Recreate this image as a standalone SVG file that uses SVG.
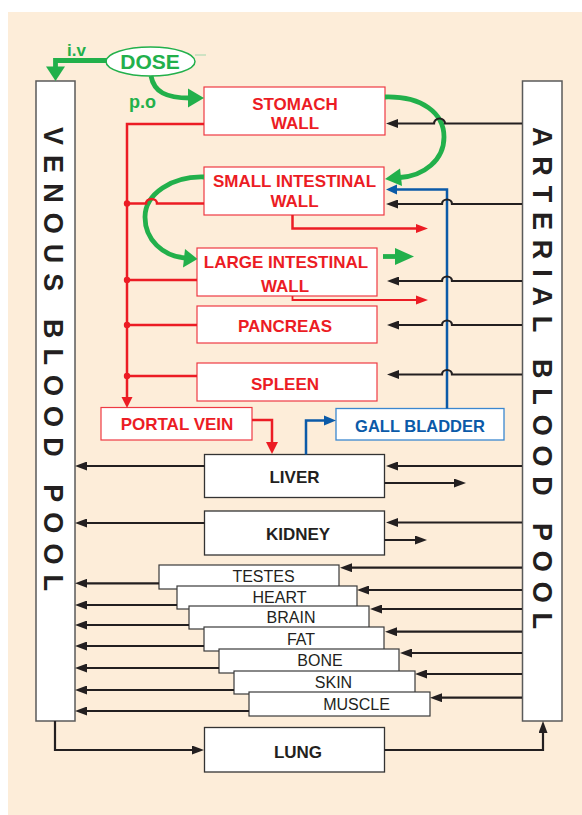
<svg xmlns="http://www.w3.org/2000/svg" width="582" height="815" viewBox="0 0 582 815">
<style>
.bg{fill:#FDEDD9}
.pool{fill:#fff;stroke:#5a5a5a;stroke-width:1.5}
.poolt{font-family:"Liberation Sans",Arial,sans-serif;font-weight:bold;font-size:27px;fill:#231f20}
.rbox{fill:#fff;stroke:#EE3A43;stroke-width:1.2}
.rt{font-family:"Liberation Sans",Arial,sans-serif;font-weight:bold;font-size:17px;fill:#EC1C24;text-anchor:middle}
.kbox{fill:#fff;stroke:#333;stroke-width:1.3}
.kt{font-family:"Liberation Sans",Arial,sans-serif;font-weight:bold;font-size:17px;fill:#231f20;text-anchor:middle}
.tbox{fill:#fff;stroke:#3a3a3a;stroke-width:1.2}
.tt{font-family:"Liberation Sans",Arial,sans-serif;font-size:16px;fill:#231f20;text-anchor:middle}
.bbox{fill:#fff;stroke:#3B87CF;stroke-width:1.3}
.bt{font-family:"Liberation Sans",Arial,sans-serif;font-weight:bold;font-size:16.5px;fill:#0B5AA8;text-anchor:middle}
.gt{font-family:"Liberation Sans",Arial,sans-serif;font-weight:bold;fill:#22B04B}
.k{fill:none;stroke:#231f20;stroke-width:2.2;marker-end:url(#ak)}
.kn{fill:none;stroke:#231f20;stroke-width:2.2}
.r{fill:none;stroke:#EC1C24;stroke-width:2.5}
.rthin{fill:none;stroke:#EC1C24;stroke-width:1.8}
.rf{fill:#EC1C24}
.b{fill:none;stroke:#0B5AA8;stroke-width:2.5}
.bf{fill:#0B5AA8}
.g{fill:none;stroke:#22B04B;stroke-width:4.8}
.gf{fill:#22B04B}
</style>
<defs>
<marker id="ak" markerUnits="userSpaceOnUse" markerWidth="12" markerHeight="9" refX="2" refY="4.5" orient="auto">
<path d="M0,0 L12,4.5 L0,9 z" fill="#231f20"/>
</marker>
</defs>
<rect class="bg" x="8" y="12" width="574" height="803"/>

<g id="venous">
<rect class="pool" x="36" y="81" width="39" height="640"/>
<text class="poolt" transform="translate(44,127) rotate(90)" textLength="464" lengthAdjust="spacing">VENOUS BLOOD POOL</text>
</g>
<g id="arterial">
<rect class="pool" x="522.5" y="81" width="39.5" height="640"/>
<text class="poolt" transform="translate(533,127) rotate(90)" textLength="502" lengthAdjust="spacing">ARTERIAL BLOOD POOL</text>
</g>

<g id="dose">
<ellipse cx="150.5" cy="61.5" rx="44.5" ry="14.5" fill="#fff" stroke="#22B04B" stroke-width="1.5"/>
<line x1="195" y1="55" x2="206" y2="55" stroke="#9fd8ad" stroke-width="1"/>
<text class="gt" x="150" y="68.5" font-size="21" text-anchor="middle">DOSE</text>
</g>

<g id="stomach">
<rect class="rbox" x="204" y="87" width="181" height="48"/>
<text class="rt" x="295" y="110">STOMACH</text>
<text class="rt" x="295" y="129">WALL</text>
</g>
<g id="small-intestinal-wall">
<rect class="rbox" x="204" y="167" width="180" height="48"/>
<text class="rt" x="294.5" y="187">SMALL INTESTINAL</text>
<text class="rt" x="294.5" y="207">WALL</text>
</g>
<g id="large-intestinal-wall">
<rect class="rbox" x="197" y="248" width="180" height="48"/>
<text class="rt" x="286" y="268">LARGE INTESTINAL</text>
<text class="rt" x="285" y="291.5">WALL</text>
</g>
<g id="pancreas">
<rect class="rbox" x="197" y="306" width="180" height="37"/>
<text class="rt" x="285" y="332">PANCREAS</text>
</g>
<g id="spleen">
<rect class="rbox" x="197" y="363" width="180" height="38"/>
<text class="rt" x="285" y="390">SPLEEN</text>
</g>
<g id="portal-vein">
<rect class="rbox" x="101" y="407.5" width="151" height="32.5"/>
<text class="rt" x="177" y="430">PORTAL VEIN</text>
</g>
<g id="gall-bladder">
<rect class="bbox" x="336" y="408.5" width="168" height="31.5"/>
<text class="bt" x="420" y="432">GALL BLADDER</text>
</g>
<g id="liver">
<rect class="kbox" x="204.5" y="454.5" width="180" height="43"/>
<text class="kt" x="294.5" y="483">LIVER</text>
</g>
<g id="kidney">
<rect class="kbox" x="204.5" y="511" width="180" height="44"/>
<text class="kt" x="298" y="540">KIDNEY</text>
</g>

<g id="testes">
<rect class="tbox" x="159" y="565" width="180" height="24"/>
<text class="tt" x="263.5" y="582">TESTES</text>
</g>
<g id="heart">
<rect class="tbox" x="177" y="586" width="180" height="23"/>
<text class="tt" x="279.5" y="603">HEART</text>
</g>
<g id="brain">
<rect class="tbox" x="189" y="606" width="180" height="23"/>
<text class="tt" x="291" y="623">BRAIN</text>
</g>
<g id="fat">
<rect class="tbox" x="204" y="627" width="180" height="24"/>
<text class="tt" x="301" y="645">FAT</text>
</g>
<g id="bone">
<rect class="tbox" x="219" y="649" width="180" height="24"/>
<text class="tt" x="320" y="666">BONE</text>
</g>
<g id="skin">
<rect class="tbox" x="234" y="671" width="181" height="23"/>
<text class="tt" x="333.5" y="688">SKIN</text>
</g>
<g id="muscle">
<rect class="tbox" x="249" y="692" width="181" height="24"/>
<text class="tt" x="356.5" y="710">MUSCLE</text>
</g>
<g id="lung">
<rect class="kbox" x="204.5" y="727.5" width="180" height="44.5"/>
<text class="kt" x="298" y="758" font-size="18.5">LUNG</text>
</g>

<g id="connectors">
<!-- green dosing -->
<text class="gt" x="67" y="56" font-size="17">i.v</text>
<path class="g" d="M107,60.5 H55.5 V68"/>
<polygon class="gf" points="46,66.5 65,66.5 55.5,81"/>
<text class="gt" x="129" y="108" font-size="18">p.o</text>
<path class="g" d="M151,76 C154,92 166,98 190,98"/>
<polygon class="gf" points="188,88.5 204,98 188,107.5"/>
<path class="g" d="M385,97 C422,96 444,113 444,137 C444,160 424,176 400,177.5"/>
<polygon class="gf" points="400,168.5 385,179 402,186"/>
<path class="g" d="M204,177 C172,176 145,194 145,217 C145,240 163,256 185,258"/>
<polygon class="gf" points="185,249 197.5,259 183,267.5"/>
<path class="g" d="M383,256.5 H397" stroke-width="4.5"/>
<polygon class="gf" points="395,248 414,256.5 395,265"/>

<!-- red portal system -->
<path class="r" d="M204,124 H127 V399"/>
<polygon class="rf" points="121.5,397 132.5,397 127,408"/>
<path class="r" d="M204,203.5 H157 a5.5,4.5 0 0 0 -11,0 H127" stroke-width="2.2"/>
<path class="r" d="M197,280 H127" stroke-width="2.2"/>
<path class="r" d="M197,325 H127" stroke-width="2.2"/>
<path class="r" d="M197,376 H127" stroke-width="2.2"/>
<circle class="rf" cx="127" cy="203.5" r="3.2"/>
<circle class="rf" cx="127" cy="280" r="3.2"/>
<circle class="rf" cx="127" cy="325" r="3.2"/>
<circle class="rf" cx="127" cy="376" r="3.2"/>
<path class="r" d="M292.5,215 V228.5 H417" stroke-width="2"/>
<polygon class="rf" points="416,224 428,228.5 416,233"/>
<path class="rthin" d="M292.5,296 V300 H417"/>
<polygon class="rf" points="416,295.5 428,300 416,304.5"/>
<path class="r" d="M252,420 H272 V443"/>
<polygon class="rf" points="266,442 278,442 272,454"/>

<!-- blue biliary -->
<path class="b" d="M447,408.5 V189.5 H397"/>
<polygon class="bf" points="397,184.5 386,189.5 397,194.5"/>
<path class="b" d="M306,454.5 V420.5 H325"/>
<polygon class="bf" points="324,415.5 336,420.5 324,425.5"/>

<!-- arterial supply -->
<path class="k" d="M522,123.5 H445 a5.5,5 0 0 0 -11,0 H396"/>
<path class="k" d="M522,204 H452 a5,4.5 0 0 0 -10,0 H396"/>
<path class="k" d="M522,281 H452 a5,4.5 0 0 0 -10,0 H397"/>
<path class="k" d="M522,325 H452 a5,4.5 0 0 0 -10,0 H397"/>
<path class="k" d="M522,374.5 H452 a5,4.5 0 0 0 -10,0 H397"/>
<path class="k" d="M522,466 H396"/>
<path class="k" d="M522,522.5 H396"/>
<path class="k" d="M522,567.7 H350"/>
<path class="k" d="M522,590 H367"/>
<path class="k" d="M522,609 H380"/>
<path class="k" d="M522,631.7 H395"/>
<path class="k" d="M522,653 H410"/>
<path class="k" d="M522,674 H425"/>
<path class="k" d="M522,697.7 H440"/>
<path class="k" d="M384.5,483 H456"/>
<path class="k" d="M384.5,540 H417"/>

<!-- venous return -->
<path class="k" d="M204.5,466 H85"/>
<path class="k" d="M204.5,523 H85"/>
<path class="k" d="M159,583.3 H85"/>
<path class="k" d="M177,605 H85"/>
<path class="k" d="M189,625 H85"/>
<path class="k" d="M204,646 H85"/>
<path class="k" d="M219,668 H85"/>
<path class="k" d="M234,690 H85"/>
<path class="k" d="M249,711 H85"/>

<!-- pulmonary loop -->
<path class="k" d="M55,721 V750 H194" stroke-width="2.5"/>
<path class="k" d="M384.5,750 H543 V731" stroke-width="2.5"/>
</g>
</svg>
